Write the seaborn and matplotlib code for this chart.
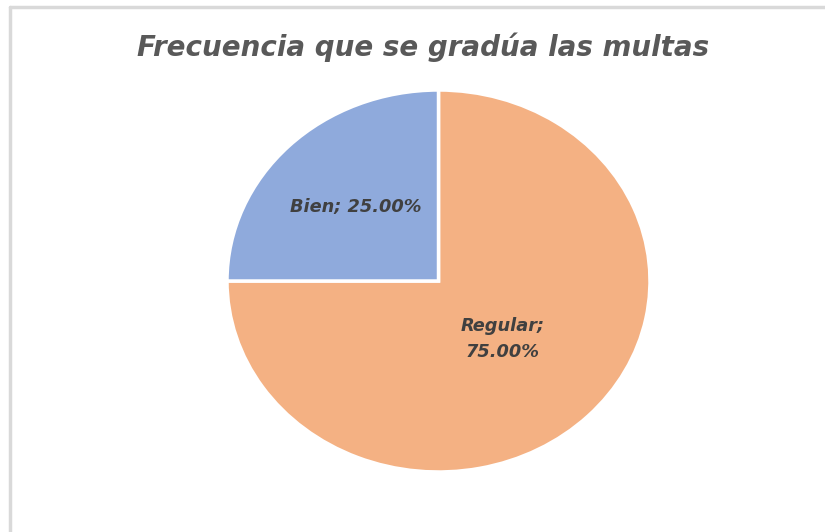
import numpy as np
import matplotlib
matplotlib.use("Agg")
import matplotlib.pyplot as plt
import seaborn as sns

categories = ["Regular", "Bien"]
shares = [75.0, 25.0]
colors = ["#F4B183", "#8FAADC"]
title = "Frecuencia que se gradúa las multas"

sns.set_theme(style="white")
plt.rcParams["font.family"] = ["DejaVu Sans"]

fig = plt.figure(figsize=(8.25, 5.32), dpi=100)

# light frame of the original screenshot (top and left only)
fig.add_artist(plt.Line2D([10 / 825, 10 / 825], [0, 1 - 7 / 532], color="#D9D9D9", lw=2.5))
fig.add_artist(plt.Line2D([10 / 825, 1], [1 - 7 / 532, 1 - 7 / 532], color="#D9D9D9", lw=2.5))

# pie is slightly squashed vertically in the reference
ax = fig.add_axes([227 / 825, 1 - 472 / 532, 423 / 825, 382 / 532])
wedges, _ = ax.pie(
    shares,
    colors=colors,
    startangle=90,
    counterclock=False,
    wedgeprops=dict(edgecolor="white", linewidth=2.5),
)
ax.set_aspect("auto")
ax.set_xlim(-1, 1)
ax.set_ylim(-1, 1)
ax.axis("off")

label_dist = {"Regular": 0.43, "Bien": 0.55}
label_text = {"Regular": "{};\n{:.2f}%", "Bien": "{}; {:.2f}%"}
for w, cat, val in zip(wedges, categories, shares):
    ang = np.deg2rad((w.theta1 + w.theta2) / 2)
    d = label_dist[cat]
    ax.text(d * np.cos(ang), d * np.sin(ang), label_text[cat].format(cat, val),
            ha="center", va="center", fontsize=12.8, fontweight="bold",
            fontstyle="italic", color="#404040", linespacing=1.55)

fig.text(423 / 825, 1 - 47 / 532, title, ha="center", va="center",
         fontsize=20, fontweight="bold", fontstyle="italic", color="#595959")

fig.savefig("out.png", dpi=100)
